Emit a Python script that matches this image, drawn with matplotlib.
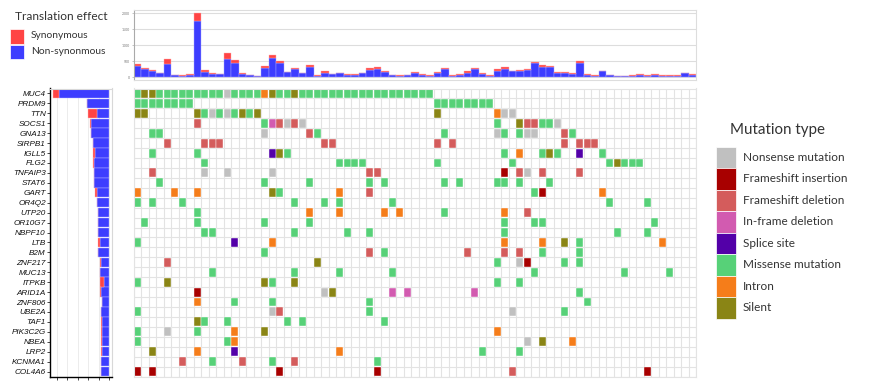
import matplotlib
matplotlib.use('Agg')
import matplotlib.pyplot as plt
from matplotlib.patches import Rectangle

W, H = 870, 389

genes = ['MUC4', 'PRDM9', 'TTN', 'SOCS1', 'GNA13', 'SIRPB1', 'IGLL5', 'FLG2',
         'TNFAIP3', 'STAT6', 'GART', 'OR4Q2', 'UTP20', 'OR10G7', 'NBPF10', 'LTB',
         'B2M', 'ZNF217', 'MUC13', 'ITPKB', 'ARID1A', 'ZNF806', 'UBE2A', 'TAF1',
         'PIK3C2G', 'NBEA', 'LRP2', 'KCNMA1', 'COL4A6']
n_samples = 75

# mutation codes
mut_types = ['N', 'I', 'D', 'F', 'P', 'M', 'O', 'S']
mut_labels = ['Nonsense mutation', 'Frameshift insertion', 'Frameshift deletion',
              'In-frame deletion', 'Splice site', 'Missense mutation', 'Intron', 'Silent']
mut_colors = ['#c0c0c0', '#a80000', '#d45c5c', '#d25bb0', '#5300a8',
              '#57d178', '#f57d1a', '#8a8515']

# "sample:code", a-b is a range of samples, later entries overwrite earlier ones
mutations = {
    'MUC4': '0-39:M 1:S 2:S 12:N 17:O 18:S 21:S',
    'PRDM9': '0-7:M 40-47:M',
    'TTN': '0:S 1:S 8:S 9:M 10:N 11:M 12:N 13:M 14:S 15:M 16:S 40:S 48:O 49:N 50:N',
    'SOCS1': '8:D 17:M 18:F 19:D 20:N 21:D 22:N 48:M 51:S 52:D 53:D 54:M 55:M 56:N',
    'GNA13': '2:M 3:M 17:N 23:D 24:M 41:M 48:N 49:M 51:M 52:N 53:N 57:D 58:M',
    'SIRPB1': '4:D 9:D 10:D 11:D 25:D 26:D 40:D 42:D 57:D 59:D 60:D 61:D',
    'IGLL5': '2:M 8:M 18:P 19:S 20:M 49:M 51:O 54:M 55:S 56:M 59:P 62:M',
    'FLG2': '9:M 27-30:M 40:M 50:M 63:M 64:S 65:M 66:M 67:M',
    'TNFAIP3': '2:D 9:N 12:N 18:N 31:D 32:D 49:I 51:D 52:N 54:D 59:D',
    'STAT6': '3:M 17:M 23:M 31:M 33:M 41:M 43:M 48:M 49:M 51:M 55:M',
    'GART': '0:O 5:O 8:O 18:S 19:M 27:O 31:D 53:M 54:I 62:O',
    'OR4Q2': '0:M 2:M 6:M 21:M 25:M 27:M 34:M 63:M 68:M',
    'UTP20': '8:M 23:O 27:O 33:O 35:O 41:M 49:O 52:D',
    'OR10G7': '1:M 8:M 17:M 23:M 49:M 53:M 54:M 69:M',
    'NBPF10': '9:M 10:M 21:M 28:M 31:M 49:M 64:M 68:M',
    'LTB': '0:M 13:P 18:O 49:O 54:O 57:S 59:M 70:O',
    'B2M': '17:M 31:D 33:M 44:D 49:D 51:D 54:M 59:M',
    'ZNF217': '4:D 24:S 48:M 51:N 52:I 57:M 59:M',
    'MUC13': '10:M 21:M 27:M 34:M 53:M 65:M 71:M',
    'ITPKB': '0:M 4:S 17:S 18:M 21:S 48:M 51:M',
    'ARID1A': '8:I 25:N 26:S 34:F 36:F 45:F 59:M',
    'ZNF806': '8:O 13:M 18:M 31:M 60:M',
    'UBE2A': '0:M 18:N 19:D 31:M 50:N 57:M',
    'TAF1': '8:S 9:M 12:M 20:M 22:M 33:M',
    'PIK3C2G': '0:M 4:N 8:M 13:O 17:S 48:O',
    'NBEA': '0:M 12:M 13:O 52:N 54:S 58:O',
    'LRP2': '2:S 8:O 13:P 27:O 46:M 51:M',
    'KCNMA1': '6:D 10:M 14:D 18:M 21:D 32:M',
    'COL4A6': '0:I 2:I 19:I 32:I 50:D 68:I',
}

# mutations per sample (top panel)
top_nonsyn = [355, 260, 200, 125, 425, 62, 50, 75, 1770, 175, 105, 95, 575, 450, 95,
              60, 30, 300, 615, 450, 155, 250, 135, 325, 50, 145, 95, 125, 85, 85,
              125, 240, 270, 155, 60, 50, 60, 140, 85, 50, 145, 260, 50, 85, 145,
              250, 105, 50, 210, 260, 190, 200, 230, 440, 335, 310, 145, 135, 105, 440,
              85, 50, 190, 62, 50, 50, 50, 85, 50, 75, 50, 50, 50, 125, 75]
top_syn = [50, 40, 30, 10, 135, 12, 12, 20, 230, 45, 20, 10, 175, 90, 40,
           15, 10, 55, 85, 60, 20, 40, 10, 60, 12, 42, 10, 10, 20, 10,
           10, 40, 55, 45, 15, 10, 25, 35, 20, 12, 30, 40, 25, 20, 42,
           30, 20, 12, 40, 65, 20, 30, 30, 40, 50, 55, 30, 20, 20, 60,
           20, 12, 20, 5, 5, 5, 12, 20, 12, 30, 25, 35, 12, 20, 30]

BLUE = '#3d3dff'
RED = '#ff4444'


def parse(s):
    cells = {}
    for tok in s.split():
        pos, code = tok.split(':')
        if '-' in pos:
            a, b = pos.split('-')
            for c in range(int(a), int(b) + 1):
                cells[c] = code
        else:
            cells[int(pos)] = code
    return cells


def px(x0, y0, x1, y1):
    return [x0 / W, 1 - y1 / H, (x1 - x0) / W, (y1 - y0) / H]


cells = {g: parse(mutations[g]) for g in genes}

fig = plt.figure(figsize=(W / 100, H / 100), dpi=100)
plt.rcParams['font.family'] = ['Lato', 'DejaVu Sans']

# main grid
ax = fig.add_axes(px(133.7, 88.5, 696, 376.5))
for c in range(n_samples + 1):
    ax.axvline(c - 0.5, color='#e3e3e3', lw=0.8, zorder=0)
for r in range(len(genes) + 1):
    ax.axhline(r - 0.5, color='#e3e3e3', lw=0.8, zorder=0)
xs, ys, cs = [], [], []
for r, g in enumerate(genes):
    for c, code in cells[g].items():
        xs.append(c)
        ys.append(r)
        cs.append(mut_colors[mut_types.index(code)])
ax.bar(xs, 0.9, width=0.92, bottom=[y - 0.45 for y in ys], color=cs,
       edgecolor='white', linewidth=0.3, zorder=2)
ax.set_xlim(-0.5, n_samples - 0.5)
ax.set_ylim(len(genes) - 0.5, -0.5)
ax.set_xticks([])
ax.set_yticks([])
for s in ax.spines.values():
    s.set_color('#e3e3e3')

# left panel: mutations per gene
syn = [sum(1 for v in cells[g].values() if v == 'S') for g in genes]
nonsyn = [len(cells[g]) - s for g, s in zip(genes, syn)]
axl = fig.add_axes(px(50, 88.5, 112.3, 376.5))
rows = list(range(len(genes)))
axl.barh(rows, nonsyn, height=0.95, color=BLUE, edgecolor='#b8b8ff', linewidth=0.3, zorder=2)
axl.barh(rows, syn, left=nonsyn, height=0.95, color=RED, edgecolor='#ffb8b8', linewidth=0.3, zorder=2)
axl.set_xlim(42.4, -2.1)
axl.set_ylim(len(genes) - 0.5, -0.5)
axl.set_xticks([0, 15, 30])
axl.set_xticklabels([])
axl.set_xticks([7.5, 22.5, 37.5], minor=True)
axl.grid(axis='x', which='both', color='#ececec', lw=0.7, zorder=0)
axl.set_yticks(rows)
axl.set_yticklabels(genes, fontsize=5.9, style='italic', family='Liberation Sans', color='#111111')
axl.tick_params(axis='y', length=2, width=0.5, pad=1)
axl.tick_params(axis='x', which='both', length=2, width=0.5)
axl.spines['top'].set_color('#d8d8d8')
axl.spines['right'].set_color('#d8d8d8')
axl.spines['left'].set_linewidth(1)
axl.spines['bottom'].set_linewidth(1)

# top panel: mutations per sample
axt = fig.add_axes(px(133.7, 10, 696, 80))
samples = list(range(n_samples))
axt.bar(samples, top_nonsyn, width=1, color=BLUE, edgecolor='#a8a8ff', linewidth=0.3, zorder=2)
axt.bar(samples, top_syn, bottom=top_nonsyn, width=1, color=RED, edgecolor='#ffb0b0',
        linewidth=0.3, zorder=2)
axt.set_xlim(-0.5, n_samples - 0.5)
axt.set_ylim(-84, 2103)
axt.set_xticks([])
axt.set_yticks([0, 500, 1000, 1500, 2000])
axt.set_yticklabels(['0', '500', '1000', '1500', '2000'], fontsize=2.5, color='#777777')
axt.tick_params(axis='y', length=1.5, width=0.4, pad=1, color='#999999')
axt.grid(axis='y', color='#dddddd', lw=0.8, zorder=0)
for s in axt.spines.values():
    s.set_color('#dddddd')
axt.spines['left'].set_color('#aaaaaa')

# legend: translation effect
fig.text(15 / W, 1 - 16 / H, 'Translation effect', fontsize=8.6, color='#333333', va='center')
for i, (lab, col) in enumerate([('Synonymous', RED), ('Non-synonmous', BLUE)]):
    y0 = 29 + i * 15.5
    fig.add_artist(Rectangle((10 / W, 1 - (y0 + 14.5) / H), 14 / W, 14.5 / H,
                             transform=fig.transFigure, facecolor=col,
                             edgecolor='white', linewidth=0.5))
    fig.text(31 / W, 1 - (y0 + 7) / H, lab, fontsize=7.4, color='#333333', va='center')

# legend: mutation type
fig.text(730 / W, 1 - 130 / H, 'Mutation type', fontsize=10.9, color='#333333', va='center')
for i, (lab, col) in enumerate(zip(mut_labels, mut_colors)):
    y0 = 147 + i * 21.45
    fig.add_artist(Rectangle((716 / W, 1 - (y0 + 21.45) / H), 20 / W, 21.45 / H,
                             transform=fig.transFigure, facecolor=col,
                             edgecolor='white', linewidth=0.5))
    fig.text(743 / W, 1 - (y0 + 10.5) / H, lab, fontsize=8.5, color='#333333', va='center')

fig.savefig('out.png', dpi=100)
